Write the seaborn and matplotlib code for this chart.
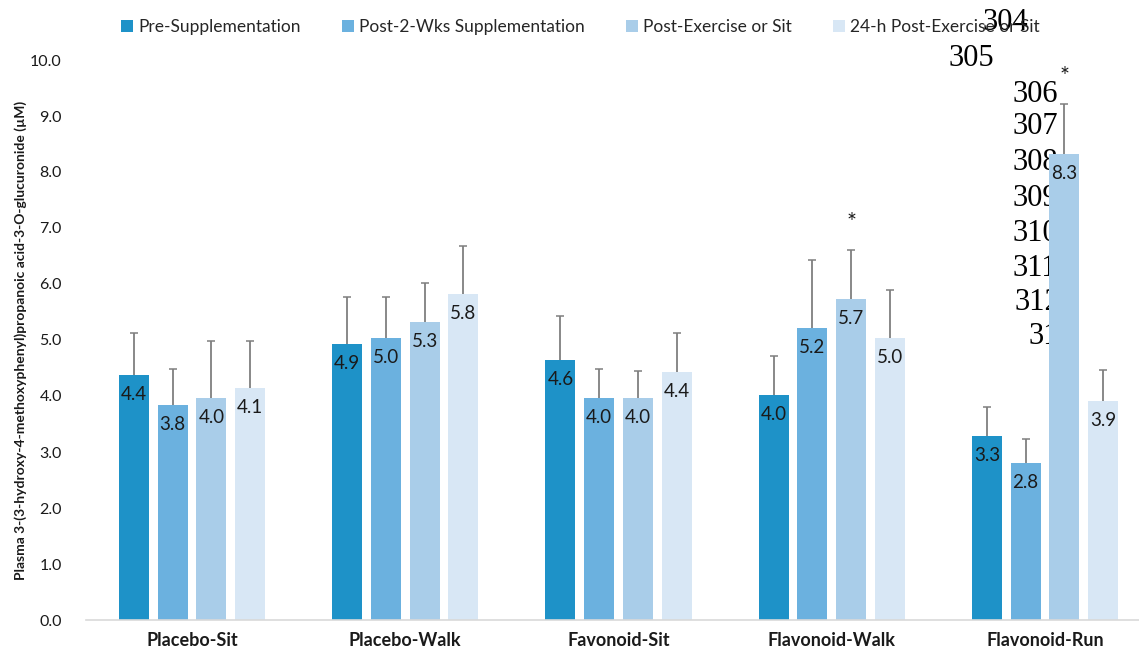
import numpy as np
import pandas as pd
import matplotlib
matplotlib.use("Agg")
import matplotlib.pyplot as plt
import seaborn as sns

# ---- data -------------------------------------------------------------
groups = ["Placebo-Sit", "Placebo-Walk", "Favonoid-Sit", "Flavonoid-Walk", "Flavonoid-Run"]
phases = ["Pre-Supplementation", "Post-2-Wks Supplementation",
          "Post-Exercise or Sit", "24-h Post-Exercise or Sit"]

pre_supp = [4.37, 4.93, 4.64, 4.02, 3.29]
post_2wk = [3.84, 5.04, 3.97, 5.21, 2.81]
post_ex = [3.97, 5.32, 3.97, 5.73, 8.32]
post_24h = [4.14, 5.82, 4.42, 5.04, 3.91]

sd_pre_supp = [0.75, 0.83, 0.79, 0.70, 0.52]
sd_post_2wk = [0.64, 0.72, 0.51, 1.21, 0.42]
sd_post_ex = [1.02, 0.69, 0.47, 0.87, 0.89]
sd_post_24h = [0.85, 0.85, 0.70, 0.85, 0.55]

# significant vs. pre-supplementation (group index, phase index)
significant = [(3, 2), (4, 2)]

# manuscript line numbers overprinted on the figure (text, left px, centre px)
line_numbers = [("304", 983, 23), ("305", 949, 58), ("306", 1012, 94),
                ("307", 1012, 127), ("308", 1012, 163), ("309", 1012, 198),
                ("310", 1012, 233), ("311", 1012, 268), ("312", 1014, 303),
                ("313", 1028, 337)]

colors = ["#1E92C8", "#6BB1DF", "#A9CDE9", "#D8E7F5"]

means = [pre_supp, post_2wk, post_ex, post_24h]
sds = [sd_pre_supp, sd_post_2wk, sd_post_ex, sd_post_24h]

df = pd.DataFrame({
    "group": np.tile(groups, len(phases)),
    "phase": np.repeat(phases, len(groups)),
    "value": np.concatenate(means),
})

# ---- figure -----------------------------------------------------------
sns.set_theme(style="white")
plt.rcParams["font.family"] = ["Lato", "DejaVu Sans"]

W, H = 1139, 652
fig = plt.figure(figsize=(W / 100, H / 100), dpi=100, facecolor="white")
ax_left, ax_right, ax_bottom, ax_top = 85.5, 1151.5, 620, 60
ax = fig.add_axes([ax_left / W, 1 - ax_bottom / H,
                   (ax_right - ax_left) / W, (ax_bottom - ax_top) / H])
ax.set_facecolor("none")

sns.barplot(data=df, x="group", y="value", hue="phase", order=groups,
            hue_order=phases, palette=colors, saturation=1, errorbar=None,
            width=0.726, gap=0.225, linewidth=0, legend=False, ax=ax)

text_col = "#1a1a1a"
for container, sd in zip(ax.containers, sds):
    xs = [p.get_x() + p.get_width() / 2 for p in container.patches]
    hs = [p.get_height() for p in container.patches]
    eb = ax.errorbar(xs, hs, yerr=[np.zeros(len(sd)), sd], fmt="none",
                     ecolor="#7F7F7F", elinewidth=1.3, capsize=3, capthick=1.1,
                     zorder=3)
    # one-sided bars: hide the cap sitting on the bar top
    eb[1][0].set_visible(False)
    for x, h in zip(xs, hs):
        ax.annotate(f"{h:.1f}", (x, h), xytext=(0, -14),
                    textcoords="offset points", ha="center", va="center",
                    fontsize=13.5, color=text_col, zorder=4)

for gi, pi in significant:
    p = ax.containers[pi].patches[gi]
    top = p.get_height() + sds[pi][gi]
    ax.annotate("*", (p.get_x() + p.get_width() / 2, top), xytext=(0, 20),
                textcoords="offset points", ha="center", va="center",
                fontsize=17, color=text_col)

ax.set_ylim(0, 10)
ax.set_xlim(-0.5, len(groups) - 0.5)
ax.set_yticks(np.arange(0, 10.5, 1.0))
ax.set_yticklabels([f"{v:.1f}" for v in np.arange(0, 10.5, 1.0)],
                   fontsize=11.5, color=text_col)
ax.tick_params(axis="y", length=0, pad=17)
ax.tick_params(axis="x", length=0, pad=9)
for lab in ax.get_xticklabels():
    lab.set_fontweight("bold")
    lab.set_fontsize(13)
    lab.set_color(text_col)
ax.set_xlabel("")
ax.set_ylabel("Plasma 3-(3-hydroxy-4-methoxyphenyl)propanoic acid-3-O-glucuronide (µM)",
              fontsize=10, fontweight="bold", color=text_col)
ax.yaxis.set_label_coords(-58.5 / (ax_right - ax_left), 0.5)

for side in ["left", "right", "top"]:
    ax.spines[side].set_visible(False)
ax.spines["bottom"].set_color("#D9D9D9")
ax.spines["bottom"].set_linewidth(1.2)

fig.legend(ax.containers, phases, loc="center", ncol=4,
           bbox_to_anchor=(580.5 / W, 1 - 27 / H), frameon=False,
           fontsize=12.5, handlelength=0.7, handleheight=0.7,
           handletextpad=0.3, columnspacing=2.35, labelcolor="#262626")

for txt, x, y in line_numbers:
    fig.text(x / W, 1 - y / H, txt, ha="left", va="center",
             fontsize=22, family="Liberation Serif", color="black", zorder=-1)

fig.savefig("out.png", dpi=100, facecolor="white")
